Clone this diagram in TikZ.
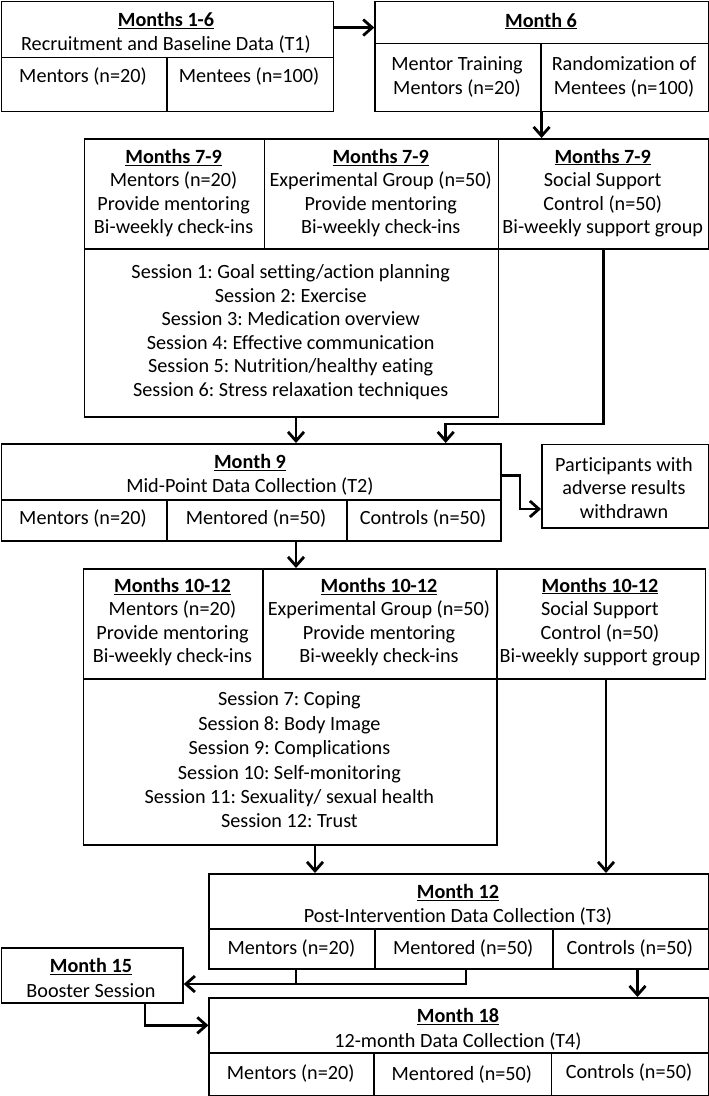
\documentclass[tikz,border=0pt]{standalone}
\usepackage{fontspec}
\setmainfont[Ligatures={NoCommon}]{Carlito}
\usetikzlibrary{arrows.meta}
\newcommand\myhd[1]{\textbf{\underline{#1}}}
\frenchspacing
\begin{document}
\begin{tikzpicture}[x=1pt,y=-1pt,
  cell/.style={draw, line width=1.6pt, inner sep=0pt, anchor=north west},
  txt/.style={align=center, inner sep=0pt, font=\fontsize{20.2}{23.5}\selectfont},
  hdtxt/.style={align=center, inner sep=0pt, font=\fontsize{20.2}{24.5}\selectfont},
  arr/.style={line width=2.8pt, line join=miter, -{Straight Barb[length=9pt,width=16pt]}},
  plain/.style={line width=2.8pt, line join=miter}]
\useasboundingbox (0,0) rectangle (709,1096);
% ---- Months 1-6
\node[cell, minimum width=331.7pt, minimum height=55.9pt] (b1t) at (0.8,0.8) {};
\node[cell, minimum width=165.2pt, minimum height=54pt] (b1a) at (0.8,56.7) {};
\node[cell, minimum width=166.5pt, minimum height=54pt] (b1b) at (166,56.7) {};
\node[hdtxt] (tb1t) at (166,33) {\myhd{Months 1-6}\\Recruitment and Baseline Data (T1)};
\node[txt] (tb1a) at (83,77) {Mentors (n=20)};
\node[txt] (tb1b) at (249,77) {Mentees (n=100)};
% ---- Month 6
\node[cell, minimum width=333.3pt, minimum height=41.9pt] (b2t) at (374.3,0.8) {};
\node[cell, minimum width=165.7pt, minimum height=68pt] (b2a) at (374.3,42.7) {};
\node[cell, minimum width=167.6pt, minimum height=68pt] (b2b) at (540,42.7) {};
\node[txt] (tb2t) at (541,21) {\myhd{Month 6}};
\node[txt] (tb2a) at (457,77) {Mentor Training\\Mentors (n=20)};
\node[txt] (tb2b) at (624,77) {Randomization of\\Mentees (n=100)};
% ---- Months 7-9
\node[cell, minimum width=180pt, minimum height=110pt] (r2c1) at (83.6,138) {};
\node[cell, minimum width=234.2pt, minimum height=110pt] (r2c2) at (263.6,138) {};
\node[cell, minimum width=209.8pt, minimum height=110pt] (r2c3) at (497.8,138) {};
\node[cell, minimum width=414.2pt, minimum height=168pt] (s1) at (83.6,248) {};
\node[txt] (tr2c1) at (173.6,193) {\myhd{Months 7-9}\\Mentors (n=20)\\Provide mentoring\\Bi-weekly check-ins};
\node[txt] (tr2c2) at (380.7,193) {\myhd{Months 7-9}\\Experimental Group (n=50)\\Provide mentoring\\Bi-weekly check-ins};
\node[txt] (tr2c3) at (602.7,193) {\myhd{Months 7-9}\\Social Support\\Control (n=50)\\Bi-weekly support group};
\node[txt] (ts1) at (290.7,332) {Session 1: Goal setting/action planning\\Session 2: Exercise\\Session 3: Medication overview\\Session 4: Effective communication\\Session 5: Nutrition/healthy eating\\Session 6: Stress relaxation techniques};
% ---- Month 9
\node[cell, minimum width=499.2pt, minimum height=56pt] (m9t) at (0.8,443) {};
\node[cell, minimum width=165.2pt, minimum height=41pt] (m9a) at (0.8,499) {};
\node[cell, minimum width=180.4pt, minimum height=41pt] (m9b) at (166,499) {};
\node[cell, minimum width=153.6pt, minimum height=41pt] (m9c) at (346.4,499) {};
\node[hdtxt] (tm9t) at (250,475) {\myhd{Month 9}\\Mid-Point Data Collection (T2)};
\node[txt] (tm9a) at (83,519) {Mentors (n=20)};
\node[txt] (tm9b) at (256,519) {Mentored (n=50)};
\node[txt] (tm9c) at (423,519) {Controls (n=50)};
\node[cell, minimum width=166.6pt, minimum height=83.5pt] (part) at (541,443.5) {};
\node[txt] (tpart) at (624,488) {Participants with\\adverse results\\withdrawn};
% ---- Months 10-12
\node[cell, minimum width=179.6pt, minimum height=110pt] (r3c1) at (82.7,568) {};
\node[cell, minimum width=233.7pt, minimum height=110pt] (r3c2) at (262.3,568) {};
\node[cell, minimum width=208.5pt, minimum height=110pt] (r3c3) at (496,568) {};
\node[cell, minimum width=413.3pt, minimum height=166pt] (s2) at (82.7,678) {};
\node[txt] (tr3c1) at (172.5,622) {\myhd{Months 10-12}\\Mentors (n=20)\\Provide mentoring\\Bi-weekly check-ins};
\node[txt] (tr3c2) at (379,622) {\myhd{Months 10-12}\\Experimental Group (n=50)\\Provide mentoring\\Bi-weekly check-ins};
\node[txt] (tr3c3) at (600,622) {\myhd{Months 10-12}\\Social Support\\Control (n=50)\\Bi-weekly support group};
\node[txt, font=\fontsize{20.2}{24.4}\selectfont] (ts2) at (289.4,760) {Session 7: Coping\\Session 8: Body Image\\Session 9: Complications\\Session 10: Self-monitoring\\Session 11: Sexuality/ sexual health\\Session 12: Trust};
% ---- Month 12
\node[cell, minimum width=499.2pt, minimum height=55pt] (m12t) at (208.4,873) {};
\node[cell, minimum width=166pt, minimum height=40pt] (m12a) at (208.4,928) {};
\node[cell, minimum width=177.6pt, minimum height=40pt] (m12b) at (374.4,928) {};
\node[cell, minimum width=155.6pt, minimum height=40pt] (m12c) at (552,928) {};
\node[hdtxt] (tm12t) at (458,905) {\myhd{Month 12}\\Post-Intervention Data Collection (T3)};
\node[txt] (tm12a) at (291.4,948) {Mentors (n=20)};
\node[txt] (tm12b) at (463.2,948) {Mentored (n=50)};
\node[txt] (tm12c) at (629.8,948) {Controls (n=50)};
% ---- Month 15
\node[cell, minimum width=181.4pt, minimum height=55pt] (m15) at (0.8,947) {};
\node[hdtxt] (tm15) at (91,978) {\myhd{Month 15}\\Booster Session};
% ---- Month 18
\node[cell, minimum width=499.2pt, minimum height=55pt] (m18t) at (208.4,997) {};
\node[cell, minimum width=164.6pt, minimum height=42.5pt] (m18a) at (208.4,1052) {};
\node[cell, minimum width=177.7pt, minimum height=42.5pt] (m18b) at (373,1052) {};
\node[cell, minimum width=156.9pt, minimum height=42.5pt] (m18c) at (550.7,1052) {};
\node[hdtxt] (tm18t) at (458,1029.5) {\myhd{Month 18}\\12-month Data Collection (T4)};
\node[txt] (tm18a) at (290.7,1073) {Mentors (n=20)};
\node[txt] (tm18b) at (461.9,1074) {Mentored (n=50)};
\node[txt] (tm18c) at (629,1072) {Controls (n=50)};
% ---- connector helper coordinates
\coordinate (xa) at (296,0);
\coordinate (xb) at (315,0);
\coordinate (xc) at (606,0);
\coordinate (xd) at (466,0);
\coordinate (xe) at (637.5,0);
\coordinate (xf) at (145,0);
\coordinate (j1) at (445.7,424);
\coordinate (j2) at (520,509);
\coordinate (j3) at (0,984);
% ---- connectors
\draw[arr] ([yshift=2pt]b1t.east) -- ([yshift=2pt]b1t.east -| b2t.west);
\draw[arr] (b2a.south east) -- (b2a.south east |- r2c3.north);
\draw[arr] (r2c3.south) |- (j1) -- (j1 |- m9t.north);
\draw[arr] (xa |- s1.south) -- (xa |- m9t.north);
\draw[arr] ([yshift=-4pt]m9t.east) -| (j2) -- (j2 -| part.west);
\draw[arr] (xa |- m9b.south) -- (xa |- r3c1.north);
\draw[arr] (xb |- s2.south) -- (xb |- m12t.north);
\draw[arr] (xc |- r3c3.south) -- (xc |- m12t.north);
\draw[plain] (xa |- m12a.south) -- (xa |- j3);
\draw[arr] (xd |- m12b.south) |- (j3 -| m15.east);
\draw[arr] (xe |- m12c.south) -- (xe |- m18t.north);
\draw[arr] (xf |- m15.south) |- (m18t.west);
\end{tikzpicture}
\end{document}
